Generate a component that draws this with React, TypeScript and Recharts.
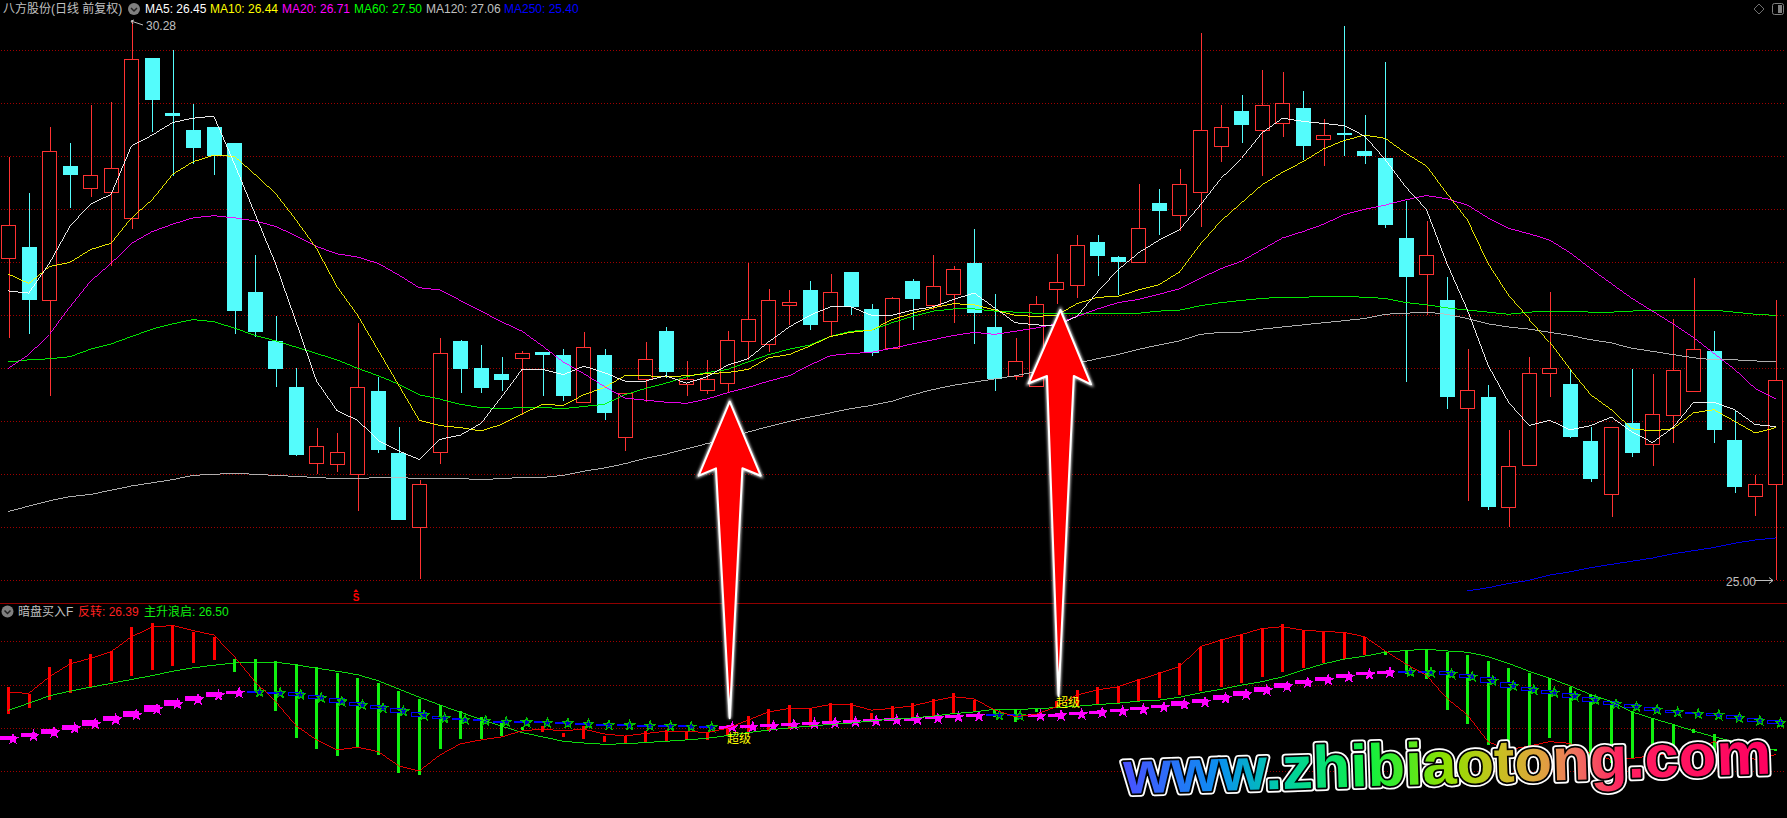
import { Bar, CartesianGrid, Cell, ComposedChart, Line, XAxis, YAxis } from "recharts";

// 日线 K 线 (price pane)
const highs = [28.99,28.65,29.28,29.13,29.48,29.51,30.28,29.93,30.00,29.49,29.28,29.13,28.07,27.49,27.00,26.44,26.39,27.43,26.92,26.45,25.95,27.29,27.27,27.22,27.11,27.16,27.15,27.18,27.34,27.18,26.77,27.25,27.39,27.07,27.08,27.35,27.99,27.75,27.74,27.82,27.89,27.91,27.61,27.67,27.84,28.07,27.97,28.31,27.70,27.29,27.68,28.08,28.26,28.26,28.06,28.74,28.69,28.88,30.16,29.48,29.58,29.81,29.80,29.62,29.35,30.23,29.39,29.89,28.58,28.39,27.86,27.18,26.84,26.42,27.11,27.72,26.99,26.45,26.45,26.99,26.95,27.47,27.85,27.35,26.60,25.99,27.64];
const lows = [27.29,27.32,26.74,28.51,28.62,27.97,28.31,29.23,28.81,28.93,28.82,27.32,27.30,26.82,26.17,26.00,26.02,25.65,26.20,25.57,25.01,26.10,26.77,26.77,26.79,26.56,26.74,26.69,26.68,26.51,26.22,26.68,26.91,26.74,26.76,26.78,27.08,27.15,27.41,27.36,27.30,27.50,27.12,27.18,27.36,27.55,27.43,27.23,26.79,26.89,26.83,27.61,27.66,27.87,27.69,28.00,28.26,28.30,28.33,28.95,29.13,28.81,29.18,28.97,28.91,29.00,28.93,28.32,26.87,27.50,26.62,25.75,25.66,25.50,26.09,26.73,26.34,25.93,25.60,26.16,26.08,26.30,26.79,26.30,25.82,25.61,25.00];
const opens = [28.04,28.14,27.64,28.91,28.70,28.66,28.42,29.93,29.41,29.25,29.28,29.13,27.72,27.26,26.82,26.11,26.10,26.00,26.79,26.20,25.50,26.21,27.26,27.00,26.95,27.10,27.15,27.13,26.68,27.13,26.35,26.90,27.35,26.85,26.80,26.86,27.26,27.23,27.60,27.74,27.45,27.91,27.56,27.19,27.82,27.60,27.70,27.99,27.39,26.93,26.83,27.75,27.79,28.19,28.05,28.00,28.56,28.45,28.66,29.10,29.43,29.25,29.31,29.46,29.16,29.22,29.05,28.98,28.23,27.89,27.64,26.63,26.73,25.69,26.09,26.96,26.85,26.31,25.81,26.48,26.29,26.56,26.79,27.16,26.32,25.80,25.91];
const closes = [28.35,27.64,29.05,28.82,28.82,28.89,29.92,29.53,29.38,29.08,29.00,27.54,27.34,26.99,26.18,26.27,26.21,26.82,26.23,25.57,25.91,27.14,26.99,26.81,26.89,27.14,27.13,26.74,27.20,26.58,26.77,27.09,26.97,26.90,26.90,27.27,27.47,27.64,27.63,27.41,27.72,27.58,27.14,27.66,27.65,27.78,27.94,27.52,26.90,27.07,27.61,27.81,28.16,28.06,28.00,28.32,28.48,28.74,29.25,29.28,29.30,29.48,29.50,29.10,29.20,29.20,29.00,28.35,27.86,28.07,26.73,26.80,25.69,26.08,26.96,27.00,26.35,25.96,26.45,26.20,26.57,26.98,27.18,26.42,25.88,25.91,26.89];

const ma5 = [27.73,27.71,27.99,28.34,28.55,28.64,29.10,29.20,29.32,29.36,29.38,28.93,28.46,27.99,27.44,26.88,26.60,26.51,26.32,26.22,26.14,26.33,26.37,26.48,26.73,26.99,26.99,26.94,27.02,26.96,26.88,26.88,26.93,26.86,26.92,27.03,27.09,27.25,27.39,27.50,27.58,27.58,27.50,27.50,27.55,27.58,27.65,27.71,27.57,27.43,27.41,27.40,27.49,27.72,27.93,28.09,28.21,28.31,28.54,28.79,28.98,29.22,29.36,29.33,29.31,29.29,29.19,28.97,28.71,28.50,27.99,27.55,27.03,26.68,26.46,26.51,26.42,26.46,26.54,26.40,26.30,26.44,26.68,26.68,26.61,26.47,26.45];
const ma10 = [27.89,27.80,27.96,28.00,28.12,28.18,28.42,28.59,28.83,28.95,29.01,29.00,28.83,28.65,28.40,28.13,27.77,27.50,27.17,26.84,26.51,26.46,26.44,26.41,26.47,26.57,26.66,26.65,26.75,26.82,26.93,26.93,26.92,26.93,26.95,26.96,26.99,27.10,27.13,27.21,27.30,27.34,27.36,27.46,27.52,27.57,27.61,27.60,27.55,27.50,27.49,27.50,27.61,27.67,27.68,27.74,27.79,27.91,28.17,28.39,28.56,28.73,28.85,28.95,29.07,29.15,29.20,29.17,29.03,28.91,28.65,28.40,27.99,27.69,27.47,27.25,26.99,26.75,26.61,26.43,26.41,26.43,26.58,26.61,26.50,26.39,26.44];
const ma20 = [27.00,27.13,27.32,27.58,27.82,27.99,28.18,28.29,28.36,28.42,28.44,28.42,28.39,28.34,28.25,28.15,28.08,28.05,27.99,27.88,27.76,27.74,27.64,27.54,27.44,27.35,27.21,27.06,26.95,26.83,26.72,26.70,26.68,26.67,26.71,26.77,26.82,26.88,26.93,27.03,27.12,27.14,27.15,27.19,27.23,27.27,27.31,27.34,27.32,27.35,27.38,27.42,27.49,27.56,27.62,27.65,27.70,27.75,27.85,27.94,28.01,28.12,28.23,28.29,28.36,28.45,28.50,28.54,28.59,28.63,28.60,28.54,28.42,28.32,28.27,28.21,28.09,27.94,27.80,27.66,27.54,27.42,27.29,27.14,26.99,26.81,26.71];
const ma60 = [27.06,27.08,27.09,27.11,27.18,27.23,27.30,27.37,27.42,27.46,27.44,27.38,27.31,27.26,27.20,27.14,27.08,27.00,26.93,26.85,26.75,26.71,26.66,26.63,26.62,26.63,26.63,26.62,26.64,26.66,26.75,26.81,26.86,26.92,26.96,26.99,27.06,27.13,27.18,27.22,27.30,27.35,27.36,27.43,27.49,27.54,27.56,27.56,27.54,27.53,27.52,27.52,27.52,27.52,27.52,27.52,27.54,27.55,27.59,27.62,27.64,27.66,27.67,27.67,27.68,27.68,27.67,27.66,27.62,27.60,27.57,27.55,27.53,27.51,27.53,27.54,27.54,27.53,27.53,27.54,27.55,27.55,27.55,27.55,27.53,27.51,27.50];
const ma120 = [25.65,25.70,25.75,25.79,25.81,25.85,25.89,25.92,25.95,25.99,26.00,26.01,26.00,25.99,25.98,25.97,25.96,25.96,25.97,25.97,25.96,25.96,25.96,25.95,25.96,25.97,25.97,25.99,26.03,26.06,26.10,26.15,26.19,26.24,26.29,26.33,26.40,26.45,26.50,26.54,26.58,26.62,26.65,26.69,26.75,26.80,26.84,26.87,26.90,26.93,26.97,27.03,27.05,27.09,27.13,27.18,27.22,27.26,27.32,27.34,27.34,27.37,27.39,27.41,27.43,27.45,27.47,27.51,27.52,27.53,27.51,27.47,27.42,27.39,27.37,27.34,27.31,27.27,27.24,27.19,27.16,27.13,27.10,27.08,27.08,27.07,27.06];
const ma250 = [null,null,null,null,null,null,null,null,null,null,null,null,null,null,null,null,null,null,null,null,null,null,null,null,null,null,null,null,null,null,null,null,null,null,null,null,null,null,null,null,null,null,null,null,null,null,null,null,null,null,null,null,null,null,null,null,null,null,null,null,null,null,null,null,null,null,null,null,null,null,null,24.90,24.93,24.97,25.00,25.05,25.08,25.12,25.15,25.18,25.21,25.25,25.28,25.31,25.35,25.38,25.40];

// 暗盘买入F (indicator pane)
const reversal = [27.83,27.81,28.19,28.49,28.62,28.77,29.12,29.34,29.38,29.26,29.16,28.66,28.08,27.62,27.06,26.73,26.50,26.56,26.46,26.13,26.01,26.38,26.64,26.73,26.80,26.94,26.98,26.94,26.98,26.87,26.82,26.88,26.93,26.93,26.90,27.00,27.19,27.38,27.46,27.46,27.55,27.55,27.42,27.46,27.52,27.63,27.73,27.68,27.42,27.27,27.32,27.50,27.77,27.89,27.96,28.12,28.27,28.43,28.89,29.04,29.17,29.31,29.35,29.27,29.24,29.22,29.12,28.79,28.49,28.23,27.69,27.31,26.69,26.50,26.59,26.69,26.65,26.42,26.27,26.30,26.37,26.43,26.50,26.69,26.57,26.27,26.39];
const mainWave = [27.42,27.58,27.75,27.86,27.95,28.04,28.13,28.22,28.32,28.40,28.46,28.51,28.53,28.53,28.47,28.39,28.32,28.24,28.10,27.91,27.72,27.54,27.37,27.21,27.05,26.90,26.80,26.70,26.66,26.63,26.64,26.67,26.70,26.73,26.77,26.83,26.90,26.96,27.01,27.05,27.09,27.12,27.17,27.21,27.24,27.28,27.34,27.38,27.44,27.44,27.45,27.48,27.51,27.55,27.58,27.63,27.65,27.72,27.82,27.90,28.00,28.08,28.19,28.35,28.49,28.60,28.67,28.76,28.80,28.83,28.79,28.76,28.66,28.50,28.32,28.16,27.98,27.78,27.62,27.38,27.23,27.09,26.94,26.80,26.69,26.57,26.50];
const barHighs = [27.95,27.79,28.41,28.60,28.72,28.78,29.34,29.44,29.39,29.23,29.11,28.60,28.60,28.56,28.48,28.41,28.28,28.16,28.05,27.86,27.68,27.55,27.41,27.26,27.14,27.03,27.05,26.89,27.05,26.83,26.81,26.94,26.96,26.92,26.91,27.07,27.28,27.45,27.54,27.47,27.58,27.58,27.35,27.51,27.58,27.68,27.82,27.65,27.42,27.44,27.45,27.62,27.89,27.95,27.98,28.14,28.30,28.51,28.88,29.07,29.18,29.32,29.41,29.27,29.23,29.23,29.11,28.79,28.81,28.83,28.76,28.70,28.56,28.39,28.28,28.16,27.95,27.79,27.58,27.40,27.23,27.10,26.98,26.87,26.69,26.57,26.53];
const barLows = [27.33,27.48,27.65,27.82,27.95,28.09,28.22,28.35,28.44,28.51,28.58,28.30,27.82,27.40,26.77,26.52,26.36,26.56,26.38,25.96,25.92,26.52,26.75,26.75,26.82,26.96,26.91,26.80,26.75,26.68,26.66,26.68,26.70,26.73,26.73,26.82,26.91,26.94,26.98,27.05,27.10,27.12,27.17,27.21,27.24,27.28,27.33,27.40,27.26,27.14,27.38,27.49,27.51,27.56,27.58,27.63,27.70,27.77,27.86,27.95,28.05,28.19,28.30,28.39,28.51,28.60,28.70,28.70,28.26,28.14,27.42,27.10,26.61,26.50,26.50,26.77,26.50,26.26,26.19,26.30,26.42,26.50,26.88,26.50,26.53,26.50,26.48];
const barUp = [1,1,1,1,1,1,1,1,1,1,1,0,0,0,0,0,0,0,0,0,0,0,0,0,0,0,1,1,1,1,1,1,1,1,1,1,1,1,1,1,1,1,1,1,1,1,1,1,0,0,0,1,1,1,1,1,1,1,1,1,1,1,1,1,1,1,1,0,0,0,0,0,0,0,0,0,0,0,0,0,0,0,0,0,0,0,0];
const blockHighs = [26.82,26.89,26.98,27.08,27.19,27.28,27.40,27.54,27.65,27.75,27.84,27.86,27.86,27.85,27.83,27.76,27.69,27.60,27.53,27.46,27.37,27.28,27.23,27.21,27.18,27.16,27.16,27.14,27.13,27.11,27.09,27.08,27.08,27.07,27.05,27.06,27.08,27.09,27.12,27.15,27.17,27.19,27.21,27.23,27.24,27.28,27.31,27.33,27.33,27.32,27.32,27.33,27.38,27.41,27.45,27.49,27.55,27.62,27.68,27.77,27.86,27.96,28.05,28.12,28.19,28.26,28.30,28.33,28.33,28.32,28.31,28.25,28.18,28.06,27.95,27.88,27.81,27.72,27.62,27.55,27.49,27.42,27.37,27.35,27.30,27.23,27.17];
const blockLows = [26.73,26.80,26.87,26.96,27.05,27.17,27.26,27.38,27.52,27.63,27.72,27.82,27.85,27.82,27.76,27.69,27.59,27.52,27.45,27.36,27.27,27.22,27.21,27.18,27.16,27.15,27.13,27.13,27.11,27.08,27.08,27.07,27.05,27.04,27.04,27.04,27.03,27.05,27.08,27.10,27.12,27.15,27.17,27.19,27.21,27.22,27.26,27.28,27.31,27.30,27.30,27.31,27.31,27.36,27.38,27.42,27.47,27.52,27.58,27.66,27.75,27.84,27.93,28.03,28.09,28.16,28.23,28.29,28.31,28.30,28.24,28.18,28.05,27.94,27.87,27.81,27.71,27.62,27.54,27.48,27.41,27.36,27.33,27.30,27.22,27.16,27.11];
const blockUp = [1,1,1,1,1,1,1,1,1,1,1,1,0,0,0,0,0,0,0,0,0,0,0,0,0,0,0,0,0,0,0,0,0,0,0,1,1,1,1,1,1,1,1,1,1,1,1,1,0,0,1,1,1,1,1,1,1,1,1,1,1,1,1,1,1,1,1,1,0,0,0,0,0,0,0,0,0,0,0,0,0,0,0,0,0,0,0];

const priceGrid = [25, 25.5, 26, 26.5, 27, 27.5, 28, 28.5, 29, 29.5, 30];
const indicatorGrid = [26, 27, 28, 29];
const maLabels = [
  { text: "MA5: 26.45", x: 145, color: "#ffffff" },
  { text: "MA10: 26.44", x: 210, color: "#ffff00" },
  { text: "MA20: 26.71", x: 282, color: "#ff00ff" },
  { text: "MA60: 27.50", x: 354, color: "#00ff00" },
  { text: "MA120: 27.06", x: 426, color: "#c0c0c0" },
  { text: "MA250: 25.40", x: 504, color: "#0000ff" },
];

const priceData = highs.map((h, i) => ({
  day: i,
  range: [lows[i], h],
  open: opens[i],
  close: closes[i],
  ma5: ma5[i],
  ma10: ma10[i],
  ma20: ma20[i],
  ma60: ma60[i],
  ma120: ma120[i],
  ma250: ma250[i],
}));

const indicatorData = barHighs.map((h, i) => ({
  day: i,
  bar: [barLows[i], h],
  block: [blockLows[i], blockHighs[i]],
  up: blockUp[i] === 1,
  reversal: reversal[i],
  mainWave: mainWave[i],
}));

const RED = "#ff3232";
const CYAN = "#54fcfc";
const GRID = "#a00000";
const font = '"Liberation Sans", "Noto Sans CJK SC", sans-serif';

// 蜡烛: Bar 的范围是 [low, high], 开收盘按比例换算成像素
const Candle = (props: any) => {
  const { x, y, width, height, payload } = props;
  const [low, high] = payload.range;
  const toY = (v: number) => y + ((high - v) / (high - low)) * height;
  const top = Math.round(toY(Math.max(payload.open, payload.close)));
  const bottom = Math.round(toY(Math.min(payload.open, payload.close)));
  const up = payload.close >= payload.open;
  const color = up ? RED : CYAN;
  const cx = Math.round(x + width / 2) + 0.5;
  const left = Math.round(x);
  return (
    <g>
      <line x1={cx} x2={cx} y1={y} y2={y + height} stroke={color} />
      {up ? (
        <rect x={left + 0.5} y={top + 0.5} width={width - 1} height={Math.max(bottom - top, 1)} fill="#000" stroke={color} />
      ) : (
        <rect x={left} y={top} width={width} height={Math.max(bottom - top, 1)} fill={color} />
      )}
    </g>
  );
};

const starPoints = (cx: number, cy: number, r: number) => {
  const pts = [];
  for (let k = 0; k < 10; k++) {
    const rad = k % 2 === 0 ? r : r * 0.42;
    const a = -Math.PI / 2 + (k * Math.PI) / 5;
    pts.push(`${cx + rad * Math.cos(a)},${cy + rad * Math.sin(a)}`);
  }
  return pts.join(" ");
};

const Block = (props: any) => {
  const { x, y, width, height, payload } = props;
  const up = payload.up;
  const cy = y + height / 2;
  const h = Math.max(height, 1);
  return (
    <g>
      {up ? (
        <rect x={x} y={y} width={width} height={Math.max(h, 3)} fill="#ff00ff" />
      ) : h > 2 ? (
        <rect x={x + 0.5} y={y} width={width - 1} height={h} fill="#000" stroke="#0000ff" />
      ) : (
        <rect x={x} y={y} width={width} height={2} fill="#0000ff" />
      )}
      <polygon
        points={starPoints(x + width / 2 + 5, cy + 1, 5)}
        fill={up ? "#ff00ff" : "#0000c0"}
        stroke={up ? "#ff00ff" : "#00c000"}
        strokeWidth={1.2}
      />
    </g>
  );
};

function ma(dataKey: string, color: string) {
  return <Line dataKey={dataKey} stroke={color} strokeWidth={0.9} dot={false} activeDot={false} type="linear" isAnimationActive={false} />;
}

export default function App() {
  return (
    <div style={{ position: "absolute", left: 0, top: 0, width: 1787, height: 818, background: "#000", overflow: "hidden" }}>
      <style>{".k svg.recharts-surface *{shape-rendering:crispEdges}"}</style>
      <div className="k" style={{ position: "absolute", left: -2, top: 0 }}>
        <ComposedChart width={1788} height={603} data={priceData} margin={{ top: 0, right: 0, bottom: 0, left: 0 }}>
          <CartesianGrid vertical={false} horizontalValues={priceGrid} stroke={GRID} strokeDasharray="1 2" />
          <XAxis dataKey="day" hide />
          <YAxis hide type="number" domain={[24.786, 30.475]} allowDataOverflow />
          <Bar dataKey="range" barSize={15} shape={<Candle />} isAnimationActive={false} />
          {ma("ma120", "#c0c0c0")}
          {ma("ma60", "#00ff00")}
          {ma("ma20", "#ff00ff")}
          {ma("ma10", "#ffff00")}
          {ma("ma5", "#ffffff")}
          {ma("ma250", "#0000ff")}
        </ComposedChart>
      </div>
      <div className="k" style={{ position: "absolute", left: -2, top: 603 }}>
        <ComposedChart width={1788} height={215} data={indicatorData} margin={{ top: 0, right: 0, bottom: 0, left: 0 }}>
          <CartesianGrid xAxisId="bars" vertical={false} horizontalValues={indicatorGrid} stroke={GRID} strokeDasharray="1 2" />
          <XAxis xAxisId="bars" dataKey="day" hide />
          <XAxis xAxisId="blocks" dataKey="day" hide />
          <YAxis hide type="number" domain={[24.923, 29.9]} allowDataOverflow />
          <Bar xAxisId="bars" dataKey="bar" barSize={3} isAnimationActive={false}>
            {barUp.map((u, i) => (
              <Cell key={i} fill={u === 1 ? "#ff0000" : "#10f010"} />
            ))}
          </Bar>
          <Line xAxisId="bars" dataKey="mainWave" stroke="#10f010" strokeWidth={0.9} dot={false} activeDot={false} type="linear" isAnimationActive={false} />
          <Line xAxisId="bars" dataKey="reversal" stroke="#ff0000" strokeWidth={0.9} dot={false} activeDot={false} type="linear" isAnimationActive={false} />
          <Bar xAxisId="blocks" dataKey="block" barSize={16} shape={<Block />} isAnimationActive={false} />
        </ComposedChart>
      </div>

      <svg width={1787} height={818} style={{ position: "absolute", left: 0, top: 0, pointerEvents: "none" }} fontFamily={font} fontSize={12}>
        <defs>
          <linearGradient id="rainbow" x1="0" x2="1" y1="0" y2="0">
            <stop offset="0" stopColor="#4a50ff" />
            <stop offset="0.15" stopColor="#0a90f0" />
            <stop offset="0.25" stopColor="#00d0a0" />
            <stop offset="0.38" stopColor="#10f040" />
            <stop offset="0.5" stopColor="#90e000" />
            <stop offset="0.58" stopColor="#c8c020" />
            <stop offset="0.65" stopColor="#e0a040" />
            <stop offset="0.7" stopColor="#f07060" />
            <stop offset="0.77" stopColor="#ff2060" />
            <stop offset="1" stopColor="#ff0060" />
          </linearGradient>
          <filter id="glow" x="-30%" y="-10%" width="160%" height="120%">
            <feGaussianBlur stdDeviation="1.5" />
          </filter>
        </defs>

        <line x1={0} x2={1787} y1={603.5} y2={603.5} stroke="#900000" />

        <text x={3} y={13} fill="#c0c0c0">八方股份(日线 前复权)</text>
        <circle cx={134} cy={9} r={6} fill="#808080" />
        <path d="M131 8 l3 3 l3 -3" fill="none" stroke="#222" strokeWidth={1.5} />
        {maLabels.map((m) => (
          <text key={m.text} x={m.x} y={13} fill={m.color}>{m.text}</text>
        ))}
        <path d="M1759 4 l5 5 l-5 5 l-5 -5 z" fill="none" stroke="#707070" />
        <rect x={1772.5} y={3.5} width={11} height={11} rx={2} fill="none" stroke="#808080" />
        <rect x={1778} y={5} width={4} height={8} fill="#808080" />

        <path d="M131 21 L143 25 M131 21 l3 -1 M131 21 l2 3" fill="none" stroke="#c0c0c0" />
        <text x={146} y={30} fill="#c0c0c0">30.28</text>
        <text x={1726} y={586} fill="#c0c0c0">25.00</text>
        <path d="M1755 580.5 H1773 M1773 580.5 l-4 -3 M1773 580.5 l-4 3" fill="none" stroke="#c0c0c0" />
        <path d="M356 589 l2.5 3 h-5 z" fill="#ff0000" />
        <text x={356} y={601} fill="#ff0000" fontSize={10} fontWeight={700} textAnchor="middle">S</text>

        <circle cx={7.5} cy={611.5} r={6} fill="#808080" />
        <path d="M4.5 610.5 l3 3 l3 -3" fill="none" stroke="#222" strokeWidth={1.5} />
        <text x={18} y={616} fill="#c0c0c0">暗盘买入F</text>
        <text x={78} y={616} fill="#ff2020">反转: 26.39</text>
        <text x={144} y={616} fill="#10f010">主升浪启: 26.50</text>

        <text x={727} y={743} fill="#ffff00">超级</text>
        <text x={1056} y={707} fill="#ffff00">超级</text>

        <g>
          <polygon points="729.7,401.7 760.7,475.7 742.4,468.3 729.7,718.3 716,468.3 698.7,475.7" fill="none" stroke="#fff" strokeWidth={3} filter="url(#glow)" />
          <polygon points="729.7,401.7 760.7,475.7 742.4,468.3 729.7,718.3 716,468.3 698.7,475.7" fill="#ff0000" stroke="#fff" strokeWidth={2} strokeLinejoin="round" />
          <polygon points="1060.4,310 1091,384.3 1073.8,376 1058.5,696 1047,376 1028.6,383.3" fill="none" stroke="#fff" strokeWidth={3} filter="url(#glow)" />
          <polygon points="1060.4,310 1091,384.3 1073.8,376 1058.5,696 1047,376 1028.6,383.3" fill="#ff0000" stroke="#fff" strokeWidth={2} strokeLinejoin="round" />
        </g>

        <g transform="rotate(-1.8 1120 794)" fontFamily='"Liberation Sans", sans-serif' fontSize={60} fontWeight={700}>
          <text x={1124} y={794} textLength={648} lengthAdjust="spacingAndGlyphs" fill="none" stroke="#fff" strokeWidth={7} strokeLinejoin="round">www.zhibiaotong.com</text>
          <text x={1124} y={794} textLength={648} lengthAdjust="spacingAndGlyphs" fill="none" stroke="#000" strokeWidth={3.5} strokeLinejoin="round">www.zhibiaotong.com</text>
          <text x={1124} y={794} textLength={648} lengthAdjust="spacingAndGlyphs" fill="url(#rainbow)">www.zhibiaotong.com</text>
        </g>
      </svg>
    </div>
  );
}
